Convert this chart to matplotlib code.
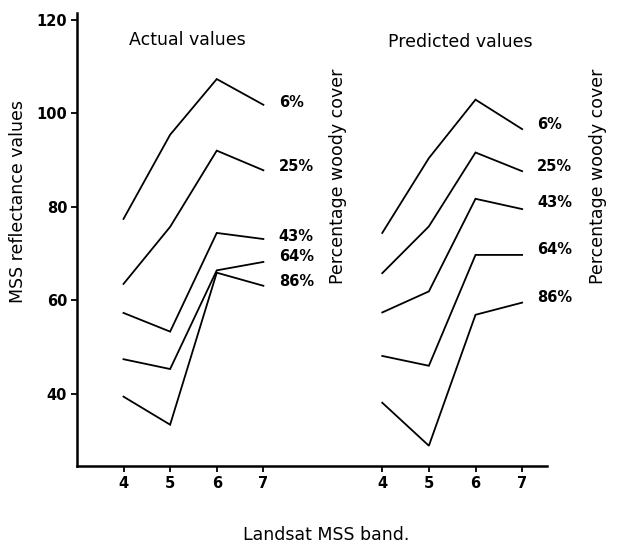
import numpy as np
import matplotlib.pyplot as plt

plt.rcParams['font.family'] = ['DejaVu Sans']

bands = [4, 5, 6, 7]
cover_labels = ['6%', '25%', '43%', '64%', '86%']

# MSS reflectance values, one row per woody cover class
actual = [
    [77.4, 95.4, 107.3, 101.8],
    [63.5, 75.7, 92.0, 87.8],
    [57.3, 53.3, 74.4, 73.1],
    [47.4, 45.3, 66.4, 68.2],
    [39.4, 33.4, 65.9, 63.1],
]
predicted = [
    [74.4, 90.4, 102.9, 96.6],
    [65.8, 75.8, 91.6, 87.6],
    [57.4, 61.9, 81.7, 79.5],
    [48.1, 46.0, 69.7, 69.7],
    [38.1, 28.9, 56.9, 59.5],
]

# label heights beside the line ends (data units)
actual_label_y = [102.2, 88.6, 73.6, 69.3, 64.0]
predicted_label_y = [97.5, 88.6, 80.9, 70.8, 60.7]

pred_offset = 5.55  # horizontal shift of the predicted block

fig = plt.figure(figsize=(6.2, 5.5), dpi=100)
ax = fig.add_axes([0.124, 0.153, 0.758, 0.824])

x_act = np.array(bands, dtype=float)
x_pred = x_act + pred_offset

for vals in actual:
    ax.plot(x_act, vals, color='black', lw=1.3, solid_joinstyle='miter')
for vals in predicted:
    ax.plot(x_pred, vals, color='black', lw=1.3, solid_joinstyle='miter')

for lab, y in zip(cover_labels, actual_label_y):
    ax.text(7.33, y, lab, fontsize=10.5, fontweight='bold', va='center', ha='left')
for lab, y in zip(cover_labels, predicted_label_y):
    ax.text(12.87, y, lab, fontsize=10.5, fontweight='bold', va='center', ha='left',
            clip_on=False)

ax.text(4.11, 115.7, 'Actual values', fontsize=12.5, va='center', ha='left')
ax.text(9.68, 115.3, 'Predicted values', fontsize=12.5, va='center', ha='left')

for xpos in (8.61, 14.18):
    ax.text(xpos, 86.5, 'Percentage woody cover', fontsize=12.5,
            rotation=90, va='center', ha='center', clip_on=False)

ax.set_xlim(3, 13.08)
ax.set_ylim(24.6, 121.5)
ax.set_xticks(list(x_act) + list(x_pred))
ax.set_xticklabels([str(b) for b in bands] * 2, fontsize=10.5, fontweight='bold')
ax.set_yticks([40, 60, 80, 100, 120])
ax.set_yticklabels(['40', '60', '80', '100', '120'], fontsize=10.5, fontweight='bold')
ax.tick_params(axis='both', direction='out', length=4, width=1.3, pad=3)

for side in ('top', 'right'):
    ax.spines[side].set_visible(False)
for side in ('left', 'bottom'):
    ax.spines[side].set_linewidth(1.8)

fig.text(18 / 620, 1 - 202 / 550, 'MSS reflectance values',
         fontsize=12.5, rotation=90, va='center', ha='center')
fig.text(326 / 620, 1 - 535 / 550, 'Landsat MSS band.',
         fontsize=12.5, va='center', ha='center')

fig.savefig('out.png', dpi=100)
